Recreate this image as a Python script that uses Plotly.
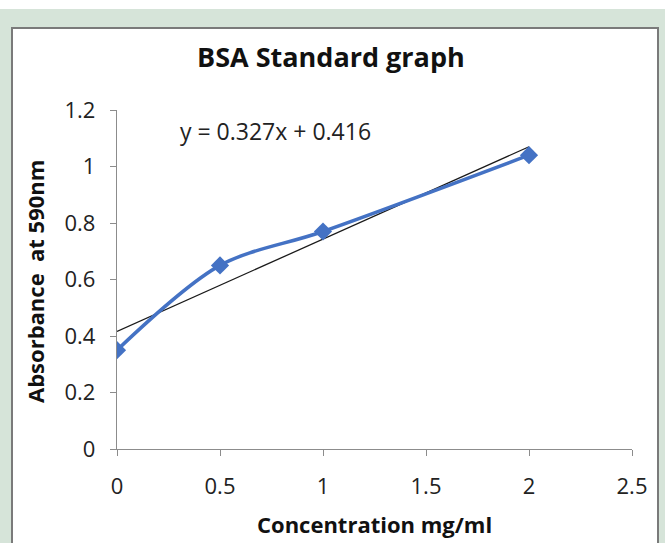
import plotly.graph_objects as go

conc = [0, 0.5, 1, 2]
absorb = [0.35, 0.65, 0.77, 1.04]
slope = 0.327
intercept = 0.416
trend_x = [0, 2]
trend_y = [intercept + slope * v for v in trend_x]
x_ticks = [0, 0.5, 1, 1.5, 2, 2.5]
x_labels = ["0", "0.5", "1", "1.5", "2", "2.5"]
y_ticks = [0, 0.2, 0.4, 0.6, 0.8, 1, 1.2]
y_labels = ["0", "0.2", "0.4", "0.6", "0.8", "1", "1.2"]

FONT = "Open Sans"
W, H = 665, 543
L, R, T, B = 117, 33, 110, 94
pw, ph = W - L - R, H - T - B

def px(x):
    return (x - L) / pw

def py(y):
    return (H - B - y) / ph

fig = go.Figure()
fig.add_trace(go.Scatter(x=trend_x, y=trend_y, mode="lines",
                         line=dict(color="#1a1a1a", width=1.3), showlegend=False, hoverinfo="skip"))
fig.add_trace(go.Scatter(x=conc, y=absorb, mode="lines+markers",
                         line=dict(color="#4472C4", width=3.5, shape="spline", smoothing=0.9),
                         marker=dict(symbol="diamond", size=14, color="#4472C4"),
                         showlegend=False))

fig.update_layout(
    width=W, height=H,
    margin=dict(l=L, r=R, t=T, b=B),
    paper_bgcolor="#d6e4d9",
    plot_bgcolor="white",
    font=dict(family=FONT, color="#262626"),
    xaxis=dict(range=[0, 2.5], tickvals=x_ticks, ticktext=x_labels, showgrid=False,
               zeroline=False, showline=True, linecolor="#8c8c8c", linewidth=1.3,
               ticks="outside", ticklen=6, tickcolor="#8c8c8c", ticklabelstandoff=11,
               tickfont=dict(size=22, color="#222222")),
    yaxis=dict(range=[0, 1.2], tickvals=y_ticks, ticktext=y_labels, showgrid=False,
               zeroline=False, showline=True, linecolor="#8c8c8c", linewidth=1.3,
               ticks="outside", ticklen=6, tickcolor="#8c8c8c", ticklabelstandoff=10,
               tickfont=dict(size=22, color="#222222")),
    shapes=[
        dict(type="rect", xref="paper", yref="paper", x0=px(-5), x1=px(W + 5), y0=py(-5), y1=py(9),
             fillcolor="white", line=dict(width=0), layer="below"),
        dict(type="rect", xref="paper", yref="paper", x0=px(12), x1=px(658), y0=py(H + 10), y1=py(28),
             fillcolor="white", line=dict(color="#7a7a7a", width=2), layer="below"),
    ],
    annotations=[
        dict(text="<b>BSA Standard graph</b>", xref="paper", yref="paper", x=px(331), y=py(57),
             xanchor="center", yanchor="middle", showarrow=False,
             font=dict(size=27, color="#111111", family=FONT)),
        dict(text="y = 0.327x + 0.416", xref="paper", yref="paper", x=px(178), y=py(131),
             xanchor="left", yanchor="middle", showarrow=False,
             font=dict(size=23, color="#222222", family=FONT)),
        dict(text="<b>Concentration mg/ml</b>", xref="paper", yref="paper", x=px(374), y=py(524),
             xanchor="center", yanchor="middle", showarrow=False,
             font=dict(size=22, color="#111111", family=FONT)),
        dict(text="<b>Absorbance  at 590nm</b>", xref="paper", yref="paper", x=px(35), y=py(282),
             xanchor="center", yanchor="middle", showarrow=False, textangle=-90,
             font=dict(size=22, color="#111111", family=FONT)),
    ],
)

fig.write_html("out.html", config={"displayModeBar": False},
               post_script="document.body.style.margin='0';document.body.style.padding='0';")
